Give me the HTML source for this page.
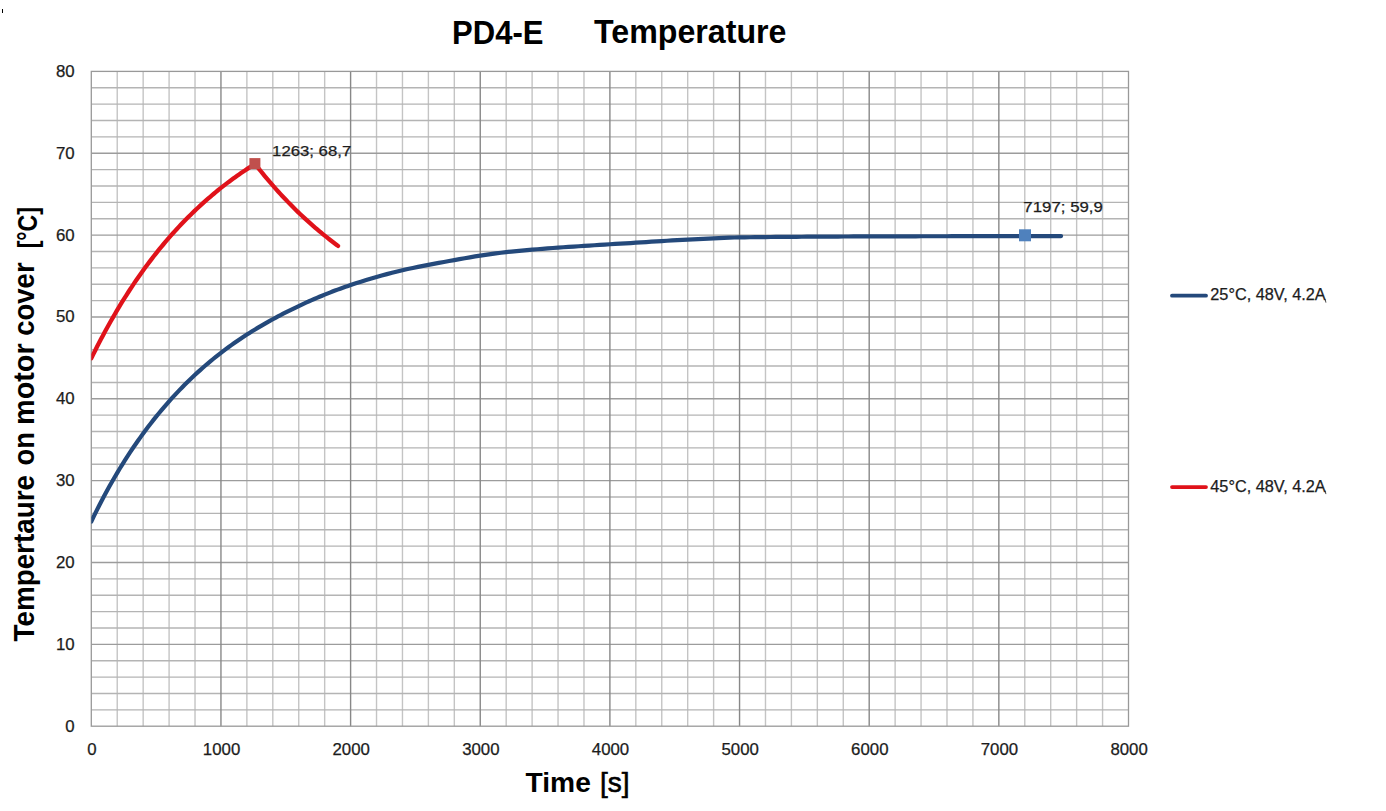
<!DOCTYPE html>
<html><head><meta charset="utf-8"><style>
html,body{margin:0;padding:0;background:#fff;}
body{width:1386px;height:811px;overflow:hidden;}
svg{display:block;}
text{font-family:"Liberation Sans",sans-serif;}
.sm{stroke:#1c1c1c;stroke-width:0.25px;}
</style></head><body>
<svg width="1386" height="811" viewBox="0 0 1386 811">
<rect width="1386" height="811" fill="#fff"/>
<g stroke-width="1.4" fill="none"><path d="M117.23 71.4V726.2" stroke="#c4c4c4"/><path d="M143.16 71.4V726.2" stroke="#c4c4c4"/><path d="M169.09 71.4V726.2" stroke="#c4c4c4"/><path d="M195.02 71.4V726.2" stroke="#c4c4c4"/><path d="M246.88 71.4V726.2" stroke="#c4c4c4"/><path d="M272.81 71.4V726.2" stroke="#c4c4c4"/><path d="M298.74 71.4V726.2" stroke="#c4c4c4"/><path d="M324.67 71.4V726.2" stroke="#c4c4c4"/><path d="M376.53 71.4V726.2" stroke="#c4c4c4"/><path d="M402.46 71.4V726.2" stroke="#c4c4c4"/><path d="M428.39 71.4V726.2" stroke="#c4c4c4"/><path d="M454.32 71.4V726.2" stroke="#c4c4c4"/><path d="M506.18 71.4V726.2" stroke="#c4c4c4"/><path d="M532.11 71.4V726.2" stroke="#c4c4c4"/><path d="M558.04 71.4V726.2" stroke="#c4c4c4"/><path d="M583.97 71.4V726.2" stroke="#c4c4c4"/><path d="M635.83 71.4V726.2" stroke="#c4c4c4"/><path d="M661.76 71.4V726.2" stroke="#c4c4c4"/><path d="M687.69 71.4V726.2" stroke="#c4c4c4"/><path d="M713.62 71.4V726.2" stroke="#c4c4c4"/><path d="M765.48 71.4V726.2" stroke="#c4c4c4"/><path d="M791.41 71.4V726.2" stroke="#c4c4c4"/><path d="M817.34 71.4V726.2" stroke="#c4c4c4"/><path d="M843.27 71.4V726.2" stroke="#c4c4c4"/><path d="M895.13 71.4V726.2" stroke="#c4c4c4"/><path d="M921.06 71.4V726.2" stroke="#c4c4c4"/><path d="M946.99 71.4V726.2" stroke="#c4c4c4"/><path d="M972.92 71.4V726.2" stroke="#c4c4c4"/><path d="M1024.78 71.4V726.2" stroke="#c4c4c4"/><path d="M1050.71 71.4V726.2" stroke="#c4c4c4"/><path d="M1076.64 71.4V726.2" stroke="#c4c4c4"/><path d="M1102.57 71.4V726.2" stroke="#c4c4c4"/><path d="M91.3 709.83H1128.5" stroke="#b4b4b4"/><path d="M91.3 693.46H1128.5" stroke="#b4b4b4"/><path d="M91.3 677.09H1128.5" stroke="#b4b4b4"/><path d="M91.3 660.72H1128.5" stroke="#b4b4b4"/><path d="M91.3 627.98H1128.5" stroke="#b4b4b4"/><path d="M91.3 611.61H1128.5" stroke="#b4b4b4"/><path d="M91.3 595.24H1128.5" stroke="#b4b4b4"/><path d="M91.3 578.87H1128.5" stroke="#b4b4b4"/><path d="M91.3 546.13H1128.5" stroke="#b4b4b4"/><path d="M91.3 529.76H1128.5" stroke="#b4b4b4"/><path d="M91.3 513.39H1128.5" stroke="#b4b4b4"/><path d="M91.3 497.02H1128.5" stroke="#b4b4b4"/><path d="M91.3 464.28H1128.5" stroke="#b4b4b4"/><path d="M91.3 447.91H1128.5" stroke="#b4b4b4"/><path d="M91.3 431.54H1128.5" stroke="#b4b4b4"/><path d="M91.3 415.17H1128.5" stroke="#b4b4b4"/><path d="M91.3 382.43H1128.5" stroke="#b4b4b4"/><path d="M91.3 366.06H1128.5" stroke="#b4b4b4"/><path d="M91.3 349.69H1128.5" stroke="#b4b4b4"/><path d="M91.3 333.32H1128.5" stroke="#b4b4b4"/><path d="M91.3 300.58H1128.5" stroke="#b4b4b4"/><path d="M91.3 284.21H1128.5" stroke="#b4b4b4"/><path d="M91.3 267.84H1128.5" stroke="#b4b4b4"/><path d="M91.3 251.47H1128.5" stroke="#b4b4b4"/><path d="M91.3 218.73H1128.5" stroke="#b4b4b4"/><path d="M91.3 202.36H1128.5" stroke="#b4b4b4"/><path d="M91.3 185.99H1128.5" stroke="#b4b4b4"/><path d="M91.3 169.62H1128.5" stroke="#b4b4b4"/><path d="M91.3 136.88H1128.5" stroke="#b4b4b4"/><path d="M91.3 120.51H1128.5" stroke="#b4b4b4"/><path d="M91.3 104.14H1128.5" stroke="#b4b4b4"/><path d="M91.3 87.77H1128.5" stroke="#b4b4b4"/><path d="M91.3 644.35H1128.5" stroke="#9c9c9c"/><path d="M91.3 562.5H1128.5" stroke="#9c9c9c"/><path d="M91.3 480.65H1128.5" stroke="#9c9c9c"/><path d="M91.3 398.8H1128.5" stroke="#9c9c9c"/><path d="M91.3 316.95H1128.5" stroke="#9c9c9c"/><path d="M91.3 235.1H1128.5" stroke="#9c9c9c"/><path d="M91.3 153.25H1128.5" stroke="#9c9c9c"/><path d="M220.95 71.4V726.2" stroke="#888888"/><path d="M350.6 71.4V726.2" stroke="#888888"/><path d="M480.25 71.4V726.2" stroke="#888888"/><path d="M609.9 71.4V726.2" stroke="#888888"/><path d="M739.55 71.4V726.2" stroke="#888888"/><path d="M869.2 71.4V726.2" stroke="#888888"/><path d="M998.85 71.4V726.2" stroke="#888888"/></g>
<rect x="91.3" y="71.4" width="1037.2" height="654.8000000000001" fill="none" stroke="#999999" stroke-width="1.3"/>
<defs><clipPath id="pc"><rect x="91.3" y="0" width="1037.2" height="811"/></clipPath></defs>
<polyline clip-path="url(#pc)" points="91.30,521.58 93.89,516.18 96.49,510.91 99.08,505.77 101.67,500.74 104.27,495.82 106.86,491.02 109.45,486.32 112.04,481.72 114.64,477.22 117.23,472.82 119.82,468.51 122.42,464.29 125.01,460.16 127.60,456.12 130.19,452.16 132.79,448.28 135.38,444.47 137.97,440.75 140.57,437.10 143.16,433.52 145.75,430.01 148.35,426.57 150.94,423.20 153.53,419.90 156.12,416.66 158.72,413.48 161.31,410.36 163.90,407.30 166.50,404.30 169.09,401.36 171.68,398.47 174.28,395.63 176.87,392.85 179.46,390.13 182.06,387.45 184.65,384.82 187.24,382.25 189.83,379.72 192.43,377.24 195.02,374.80 197.61,372.42 200.21,370.07 202.80,367.77 205.39,365.52 207.99,363.30 210.58,361.13 213.17,359.00 215.76,356.90 218.36,354.85 220.95,352.84 223.54,350.86 226.14,348.92 228.73,347.01 231.32,345.14 233.92,343.31 236.51,341.50 239.10,339.73 241.69,337.99 244.29,336.28 246.88,334.60 249.47,332.95 252.07,331.33 254.66,329.73 257.25,328.16 259.84,326.62 262.44,325.10 265.03,323.60 267.62,322.13 270.22,320.68 272.81,319.25 275.40,317.84 278.00,316.45 280.59,315.08 283.18,313.73 285.77,312.40 288.37,311.09 290.96,309.80 293.55,308.52 296.15,307.27 298.74,306.03 301.33,304.81 303.93,303.61 306.52,302.43 309.11,301.26 311.70,300.11 314.30,298.98 316.89,297.87 319.48,296.78 322.08,295.70 324.67,294.64 327.26,293.60 329.86,292.58 332.45,291.57 335.04,290.58 337.63,289.61 340.23,288.66 342.82,287.73 345.41,286.81 348.01,285.90 350.60,285.02 355.79,283.30 360.97,281.63 366.16,280.03 371.34,278.47 376.53,276.97 381.72,275.53 386.90,274.13 392.09,272.78 397.27,271.48 402.46,270.23 407.65,269.05 412.83,267.94 418.02,266.88 423.20,265.87 428.39,264.87 433.58,263.89 438.76,262.91 443.95,261.95 449.13,261.00 454.32,260.07 459.51,259.14 464.69,258.22 469.88,257.31 475.06,256.43 480.25,255.60 485.44,254.83 490.62,254.08 495.81,253.38 500.99,252.73 506.18,252.12 511.37,251.57 516.55,251.06 521.74,250.58 526.92,250.12 532.11,249.67 537.30,249.23 542.48,248.81 547.67,248.40 552.85,248.00 558.04,247.62 563.23,247.26 568.41,246.91 573.60,246.57 578.78,246.24 583.97,245.90 589.16,245.57 594.34,245.24 599.53,244.91 604.71,244.59 609.90,244.27 615.09,243.95 620.27,243.64 625.46,243.34 630.64,243.03 635.83,242.71 641.02,242.39 646.20,242.06 651.39,241.72 656.57,241.39 661.76,241.08 666.95,240.77 672.13,240.46 677.32,240.16 682.50,239.88 687.69,239.60 692.88,239.34 698.06,239.08 703.25,238.83 708.43,238.60 713.62,238.37 718.81,238.15 723.99,237.91 729.18,237.70 734.36,237.52 739.55,237.39 744.74,237.31 749.92,237.23 755.11,237.16 760.29,237.10 765.48,237.04 770.67,236.99 775.85,236.94 781.04,236.90 786.22,236.86 791.41,236.82 796.60,236.79 801.78,236.75 806.97,236.72 812.15,236.69 817.34,236.65 822.53,236.62 827.71,236.59 832.90,236.57 838.08,236.54 843.27,236.51 848.46,236.49 853.64,236.47 858.83,236.45 864.01,236.43 869.20,236.41 874.39,236.39 879.57,236.38 884.76,236.36 889.94,236.35 895.13,236.33 900.32,236.32 905.50,236.30 910.69,236.29 915.87,236.28 921.06,236.27 926.25,236.26 931.43,236.25 936.62,236.24 941.80,236.23 946.99,236.23 952.18,236.22 957.36,236.21 962.55,236.21 967.73,236.20 972.92,236.19 978.11,236.19 983.29,236.18 988.48,236.18 993.66,236.17 998.85,236.16 1004.04,236.16 1009.22,236.15 1014.41,236.14 1019.59,236.14 1024.78,236.13 1029.97,236.12 1035.15,236.12 1040.34,236.11 1045.52,236.11 1050.71,236.10 1055.90,236.09 1061.08,236.09" fill="none" stroke="#24497b" stroke-width="4.2" stroke-linejoin="round" stroke-linecap="round"/>
<polyline clip-path="url(#pc)" points="91.30,358.28 93.24,354.33 95.19,350.43 97.13,346.58 99.08,342.80 101.02,339.07 102.97,335.40 104.91,331.78 106.86,328.21 108.80,324.69 110.75,321.23 112.69,317.82 114.64,314.46 116.58,311.14 118.53,307.88 120.47,304.66 122.42,301.49 124.36,298.37 126.31,295.29 128.25,292.25 130.19,289.26 132.14,286.32 134.08,283.41 136.03,280.55 137.97,277.73 139.92,274.95 141.86,272.20 143.81,269.50 145.75,266.84 147.70,264.21 149.64,261.62 151.59,259.07 153.53,256.55 155.48,254.07 157.42,251.63 159.37,249.22 161.31,246.84 163.26,244.50 165.20,242.19 167.15,239.91 169.09,237.66 171.03,235.45 172.98,233.26 174.92,231.11 176.87,228.98 178.81,226.89 180.76,224.82 182.70,222.78 184.65,220.77 186.59,218.79 188.54,216.84 190.48,214.91 192.43,213.01 194.37,211.13 196.32,209.28 198.26,207.46 200.21,205.66 202.15,203.88 204.10,202.13 206.04,200.40 207.99,198.70 209.93,197.02 211.87,195.36 213.82,193.73 215.76,192.11 217.71,190.52 219.65,188.95 221.60,187.41 223.54,185.88 225.49,184.37 227.43,182.89 229.38,181.42 231.32,179.98 233.27,178.55 235.21,177.15 237.16,175.76 239.10,174.40 241.05,173.05 242.99,171.72 244.94,170.41 246.88,169.12 248.82,167.84 250.77,166.58 252.71,165.34 254.66,164.12 255.05,163.88 256.99,166.38 258.94,168.84 260.88,171.27 262.83,173.67 264.77,176.03 266.72,178.37 268.66,180.67 270.61,182.94 272.55,185.19 274.50,187.40 276.44,189.59 278.38,191.75 280.33,193.88 282.27,195.98 284.22,198.05 286.16,200.10 288.11,202.12 290.05,204.11 292.00,206.08 293.94,208.03 295.89,209.94 297.83,211.84 299.78,213.70 301.72,215.55 303.67,217.37 305.61,219.16 307.56,220.93 309.50,222.68 311.45,224.41 313.39,226.11 315.34,227.79 317.28,229.45 319.22,231.09 321.17,232.71 323.11,234.30 325.06,235.88 327.00,237.43 328.95,238.97 330.89,240.48 332.84,241.98 334.78,243.45 336.73,244.91 338.02,245.87" fill="none" stroke="#e0121a" stroke-width="4.3" stroke-linejoin="round" stroke-linecap="round"/>
<rect x="249.4" y="158.1" width="11" height="11" fill="#c0504d"/>
<rect x="1019" y="229.3" width="12" height="12" fill="#4f81bd"/>
<text x="65.26" y="731.60" font-size="16" fill="#1c1c1c" class="sm" textLength="9.34" lengthAdjust="spacingAndGlyphs">0</text>
<text x="55.92" y="649.75" font-size="16" fill="#1c1c1c" class="sm" textLength="18.68" lengthAdjust="spacingAndGlyphs">10</text>
<text x="55.92" y="567.90" font-size="16" fill="#1c1c1c" class="sm" textLength="18.68" lengthAdjust="spacingAndGlyphs">20</text>
<text x="55.92" y="486.05" font-size="16" fill="#1c1c1c" class="sm" textLength="18.68" lengthAdjust="spacingAndGlyphs">30</text>
<text x="55.92" y="404.20" font-size="16" fill="#1c1c1c" class="sm" textLength="18.68" lengthAdjust="spacingAndGlyphs">40</text>
<text x="55.92" y="322.35" font-size="16" fill="#1c1c1c" class="sm" textLength="18.68" lengthAdjust="spacingAndGlyphs">50</text>
<text x="55.92" y="240.50" font-size="16" fill="#1c1c1c" class="sm" textLength="18.68" lengthAdjust="spacingAndGlyphs">60</text>
<text x="55.92" y="158.65" font-size="16" fill="#1c1c1c" class="sm" textLength="18.68" lengthAdjust="spacingAndGlyphs">70</text>
<text x="55.92" y="76.80" font-size="16" fill="#1c1c1c" class="sm" textLength="18.68" lengthAdjust="spacingAndGlyphs">80</text>
<text x="87.23" y="755.2" font-size="16" fill="#1c1c1c" class="sm" textLength="9.34" lengthAdjust="spacingAndGlyphs">0</text>
<text x="202.87" y="755.2" font-size="16" fill="#1c1c1c" class="sm" textLength="37.36" lengthAdjust="spacingAndGlyphs">1000</text>
<text x="332.52" y="755.2" font-size="16" fill="#1c1c1c" class="sm" textLength="37.36" lengthAdjust="spacingAndGlyphs">2000</text>
<text x="462.17" y="755.2" font-size="16" fill="#1c1c1c" class="sm" textLength="37.36" lengthAdjust="spacingAndGlyphs">3000</text>
<text x="591.82" y="755.2" font-size="16" fill="#1c1c1c" class="sm" textLength="37.36" lengthAdjust="spacingAndGlyphs">4000</text>
<text x="721.47" y="755.2" font-size="16" fill="#1c1c1c" class="sm" textLength="37.36" lengthAdjust="spacingAndGlyphs">5000</text>
<text x="851.12" y="755.2" font-size="16" fill="#1c1c1c" class="sm" textLength="37.36" lengthAdjust="spacingAndGlyphs">6000</text>
<text x="980.77" y="755.2" font-size="16" fill="#1c1c1c" class="sm" textLength="37.36" lengthAdjust="spacingAndGlyphs">7000</text>
<text x="1110.42" y="755.2" font-size="16" fill="#1c1c1c" class="sm" textLength="37.36" lengthAdjust="spacingAndGlyphs">8000</text>
<text x="272.08" y="156.4" font-size="15" font-weight="normal" fill="#1c1c1c" textLength="79.13" lengthAdjust="spacingAndGlyphs" class="sm">1263; 68,7</text>
<text x="1023.38" y="212.2" font-size="15" font-weight="normal" fill="#1c1c1c" textLength="79.54" lengthAdjust="spacingAndGlyphs" class="sm">7197; 59,9</text>
<line x1="1172" y1="295.7" x2="1206" y2="295.7" stroke="#24497b" stroke-width="3.8" stroke-linecap="round"/>
<text x="1210.28" y="300" font-size="16" font-weight="normal" fill="#1c1c1c" textLength="115.48" lengthAdjust="spacingAndGlyphs" class="sm">25°C, 48V, 4.2A</text>
<line x1="1172" y1="487.1" x2="1206" y2="487.1" stroke="#e0121a" stroke-width="3.8" stroke-linecap="round"/>
<text x="1210.28" y="491.5" font-size="16" fill="#1c1c1c" class="sm" textLength="115.48" lengthAdjust="spacingAndGlyphs">45°C, 48V, 4.2A</text>
<text x="452.12" y="44.2" font-size="33" font-weight="bold" fill="#000" textLength="91.41" lengthAdjust="spacingAndGlyphs">PD4-E</text>
<text x="594.0" y="43.0" font-size="33" font-weight="bold" fill="#000" textLength="192.42" lengthAdjust="spacingAndGlyphs">Temperature</text>
<text x="525.6" y="791.7" font-size="28" font-weight="bold" fill="#000" textLength="65.26" lengthAdjust="spacingAndGlyphs">Time</text>
<text stroke="#000" stroke-width="0.6" x="600.0" y="791.7" font-size="28" font-weight="normal" fill="#000" textLength="29.56" lengthAdjust="spacingAndGlyphs">[s]</text>
<g transform="translate(33.8,641.5) rotate(-90)"><text x="0.0" y="0" font-size="29" font-weight="bold" fill="#000" textLength="166.51" lengthAdjust="spacingAndGlyphs">Tempertaure</text><text x="176.06" y="0" font-size="29" font-weight="bold" fill="#000" textLength="33.29" lengthAdjust="spacingAndGlyphs">on</text><text x="216.51" y="0" font-size="29" font-weight="bold" fill="#000" textLength="81.66" lengthAdjust="spacingAndGlyphs">motor</text><text x="305.85" y="0" font-size="29" font-weight="bold" fill="#000" textLength="73.22" lengthAdjust="spacingAndGlyphs">cover</text><text x="393.14" y="3.5" font-size="27" font-weight="bold" fill="#000" textLength="41.46" lengthAdjust="spacingAndGlyphs">[°C]</text></g>
<rect x="2" y="9" width="1" height="4" fill="#000"/>
<path d="M1325.2 299.2 L1325.9 302.6" stroke="#333" stroke-width="0.9"/>
<path d="M1325.2 490.7 L1325.9 494.1" stroke="#333" stroke-width="0.9"/>
</svg></body></html>
